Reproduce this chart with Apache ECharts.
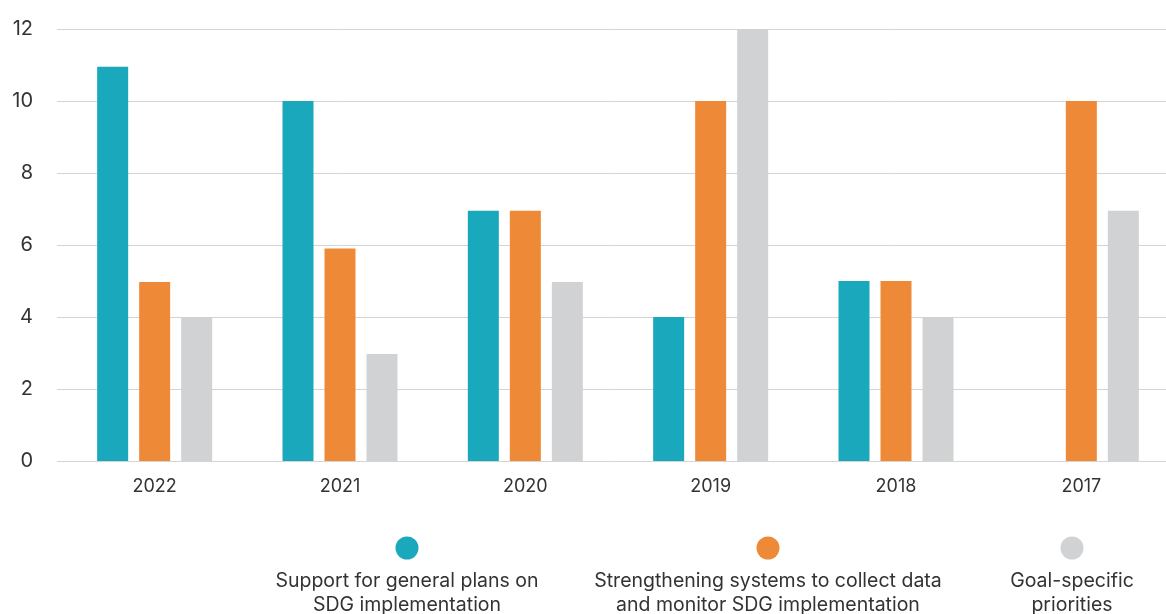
<!DOCTYPE html>
<html>
<head>
<meta charset="utf-8">
<script src="https://cdn.jsdelivr.net/npm/echarts@6/dist/echarts.min.js"></script>
<style>
  html, body { margin: 0; padding: 0; background: #fff; overflow: hidden; }
  /* the plot runs slightly past the right edge of the window */
  #chart { width: 1174px; height: 614px; }
</style>
</head>
<body>
<div id="chart"></div>
<script>
// Years shown along the x axis
const years = ['2022', '2021', '2020', '2019', '2018', '2017'];

// Series names (legend text)
const seriesNames = [
  'Support for general plans on\nSDG implementation',
  'Strengthening systems to collect data\nand monitor SDG implementation',
  'Goal-specific\npriorities'
];

// Values per year for each series
const generalPlans = [10.95, 10, 6.95, 4, 5, 0];
const dataSystems = [4.97, 5.9, 6.95, 10, 5, 10];
const goalSpecific = [4, 2.97, 4.97, 12, 4, 6.95];

const seriesColors = ['#1AA9BC', '#EE8A37', '#D1D2D4'];
const fontFamily = 'Inter, "Noto Sans", sans-serif';
const gridColor = '#d4d4d4';

const chart = echarts.init(document.getElementById('chart'));

// Legend entries: dot above a centred two-line caption
const legendCenters = [407, 768, 1072];
const legendGraphics = seriesNames.map((name, i) => ({
  type: 'group',
  children: [
    {
      type: 'circle',
      shape: { cx: legendCenters[i], cy: 548, r: 11.5 },
      style: { fill: seriesColors[i] }
    },
    {
      type: 'text',
      x: legendCenters[i],
      y: 569,
      style: {
        text: name,
        fill: '#333',
        font: '19.5px ' + fontFamily,
        align: 'center',
        verticalAlign: 'top',
        lineHeight: 24
      }
    }
  ]
}));

const dataSets = [generalPlans, dataSystems, goalSpecific];

chart.setOption({
  animation: false,
  grid: [
    // bars
    { left: 62, right: 0, top: 29, height: 432, containLabel: false },
    // horizontal rules, reaching a little further left than the bars' band
    { left: 57, right: 0, top: 29, height: 432, containLabel: false }
  ],
  xAxis: [
    {
      type: 'category',
      gridIndex: 0,
      data: years,
      axisLine: { show: false },
      axisTick: { show: false },
      axisLabel: { color: '#333', fontSize: 18, fontFamily: fontFamily, margin: 17 }
    },
    { type: 'value', gridIndex: 1, show: false }
  ],
  yAxis: [
    {
      type: 'value',
      gridIndex: 0,
      min: 0,
      max: 12,
      interval: 2,
      axisLine: { show: false },
      axisTick: { show: false },
      axisLabel: { color: '#333', fontSize: 20, fontFamily: fontFamily, margin: 29 },
      splitLine: { show: false }
    },
    {
      type: 'value',
      gridIndex: 1,
      min: 0,
      max: 12,
      interval: 2,
      axisLine: { show: false },
      axisTick: { show: false },
      axisLabel: { show: false },
      splitLine: { lineStyle: { color: gridColor, width: 1 } }
    }
  ],
  series: dataSets.map((d, i) => ({
    name: seriesNames[i],
    type: 'bar',
    xAxisIndex: 0,
    yAxisIndex: 0,
    data: d,
    barWidth: 31,
    barGap: '35.5%',
    itemStyle: { color: seriesColors[i] }
  })),
  graphic: legendGraphics
});
</script>
</body>
</html>
